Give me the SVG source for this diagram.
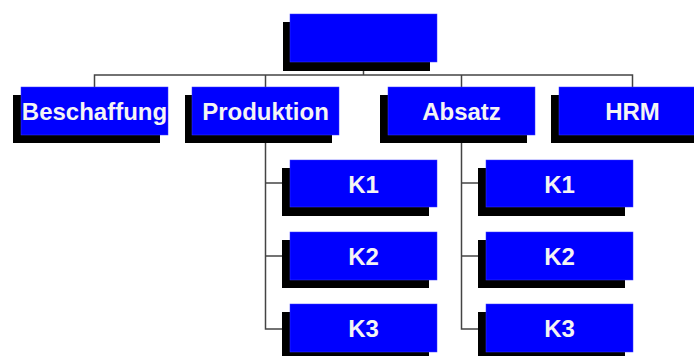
<svg xmlns="http://www.w3.org/2000/svg" width="694" height="356" viewBox="0 0 694 356">
  <defs>
    <style>
      .shadow { fill: #000000; }
      .box { fill: #0000FF; stroke: #3a3aff; stroke-width: 0.5; }
      .label { fill: #F4F4F4; font-family: "Liberation Sans", Arial, sans-serif; font-weight: bold; font-size: 24px; text-anchor: middle; }
      .conn { fill: none; stroke: #444444; stroke-width: 1.5; }
    </style>
  </defs>
  <rect width="694" height="356" fill="#FFFFFF"/>

  <!-- connectors -->
  <g id="connectors" class="conn">
    <path d="M363.5 71 V75"/>
    <path d="M94.5 87 V75 H632.5 V87"/>
    <path d="M265.5 75 V87"/>
    <path d="M461.5 75 V87"/>
    <path d="M265.5 143 V329 H283"/>
    <path d="M265.5 183 H283"/>
    <path d="M265.5 256 H283"/>
    <path d="M461.5 143 V329 H479"/>
    <path d="M461.5 183 H479"/>
    <path d="M461.5 256 H479"/>
  </g>

  <!-- top node -->
  <g id="root">
    <rect class="shadow" x="283" y="22" width="147" height="49"/>
    <rect class="box" x="290" y="14" width="147" height="48"/>
  </g>

  <!-- second level -->
  <g id="beschaffung">
    <rect class="shadow" x="13" y="95" width="147" height="48"/>
    <rect class="box" x="21" y="87" width="147" height="48"/>
    <text class="label" x="94.5" y="120">Beschaffung</text>
  </g>
  <g id="produktion">
    <rect class="shadow" x="185" y="95" width="147" height="48"/>
    <rect class="box" x="192" y="87" width="147" height="48"/>
    <text class="label" x="265.5" y="120">Produktion</text>
  </g>
  <g id="absatz">
    <rect class="shadow" x="380" y="95" width="147" height="48"/>
    <rect class="box" x="388" y="87" width="147" height="48"/>
    <text class="label" x="461.5" y="120">Absatz</text>
  </g>
  <g id="hrm">
    <rect class="shadow" x="551" y="95" width="147" height="48"/>
    <rect class="box" x="559" y="87" width="147" height="48"/>
    <text class="label" x="632.5" y="120">HRM</text>
  </g>

  <!-- Produktion children -->
  <g id="produktion-k1">
    <rect class="shadow" x="282" y="168" width="147" height="48"/>
    <rect class="box" x="290" y="160" width="147" height="47"/>
    <text class="label" x="363.5" y="193">K1</text>
  </g>
  <g id="produktion-k2">
    <rect class="shadow" x="282" y="240" width="147" height="48"/>
    <rect class="box" x="290" y="232" width="147" height="48"/>
    <text class="label" x="363.5" y="265">K2</text>
  </g>
  <g id="produktion-k3">
    <rect class="shadow" x="282" y="312" width="147" height="48"/>
    <rect class="box" x="290" y="304" width="147" height="48"/>
    <text class="label" x="363.5" y="337">K3</text>
  </g>

  <!-- Absatz children -->
  <g id="absatz-k1">
    <rect class="shadow" x="478" y="168" width="147" height="48"/>
    <rect class="box" x="486" y="160" width="147" height="47"/>
    <text class="label" x="559.5" y="193">K1</text>
  </g>
  <g id="absatz-k2">
    <rect class="shadow" x="478" y="240" width="147" height="48"/>
    <rect class="box" x="486" y="232" width="147" height="48"/>
    <text class="label" x="559.5" y="265">K2</text>
  </g>
  <g id="absatz-k3">
    <rect class="shadow" x="478" y="312" width="147" height="48"/>
    <rect class="box" x="486" y="304" width="147" height="48"/>
    <text class="label" x="559.5" y="337">K3</text>
  </g>
</svg>
